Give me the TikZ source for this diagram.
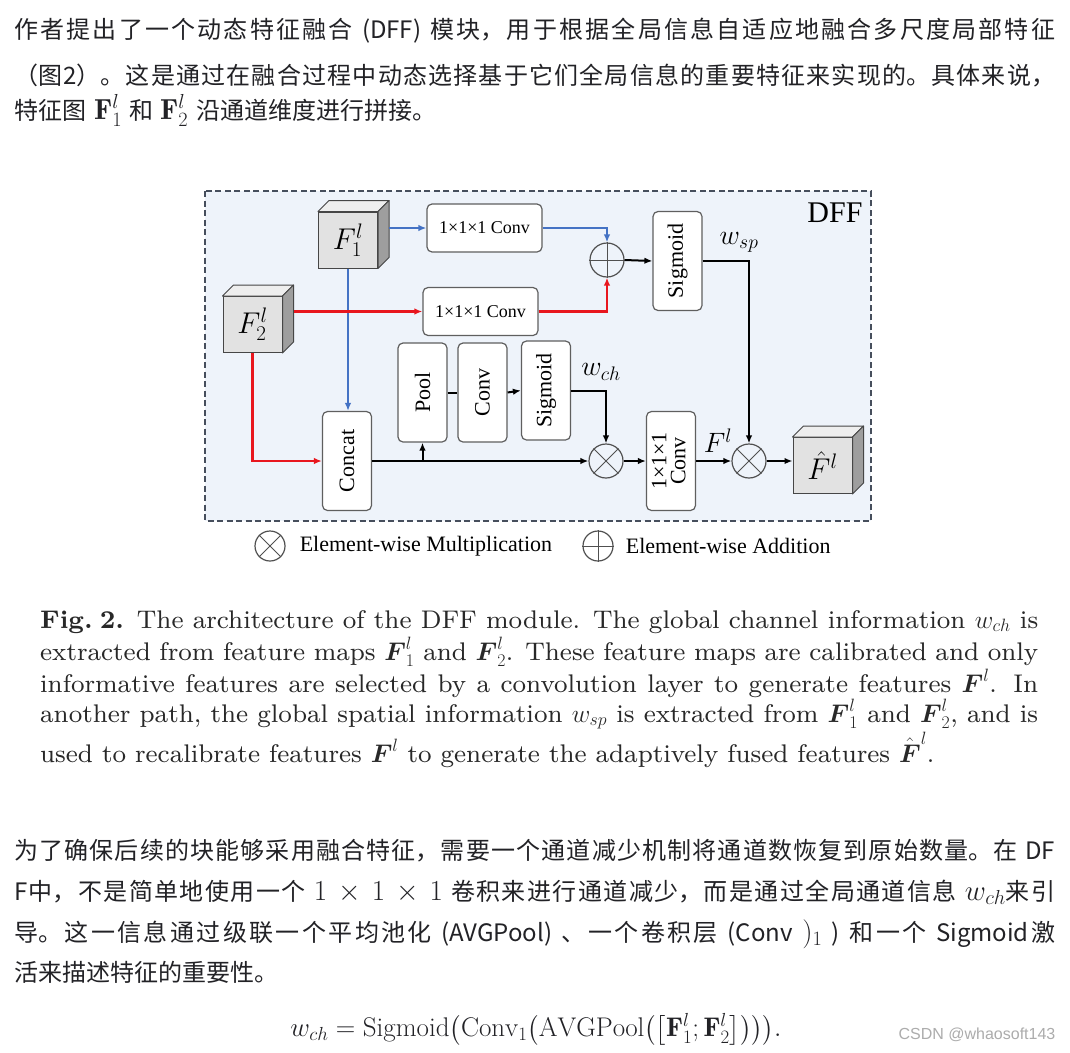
\RequirePackage{fix-cm}
\documentclass[tikz,border=0pt]{standalone}
\usepackage{amsmath}
\usepackage{fontspec}
\usetikzlibrary{positioning,arrows.meta,calc}

\newfontfamily\cjk{Noto Sans CJK SC}
\newfontfamily\figfont{Liberation Serif}
\newfontfamily\capfont{lmroman8-regular.otf}[BoldFont=lmroman8-bold.otf]
\newfontfamily\wmfont{Liberation Sans}

\definecolor{dffbg}{RGB}{238,243,250}
\definecolor{dffedge}{RGB}{70,78,92}
\definecolor{dffblue}{RGB}{68,114,196}
\definecolor{dffred}{RGB}{232,22,30}
\definecolor{boxline}{RGB}{95,95,95}
\definecolor{opcolor}{RGB}{80,80,80}
\definecolor{cubeline}{RGB}{70,70,70}
\definecolor{cubefront}{RGB}{226,226,226}
\definecolor{cubetop}{RGB}{238,238,238}
\definecolor{cubeside}{RGB}{158,158,158}
\definecolor{bodytext}{RGB}{34,34,38}
\definecolor{captext}{RGB}{40,40,40}
\definecolor{wmgray}{RGB}{172,172,172}

% one justified line of Chinese text
\newcommand{\cjkline}[2]{\parbox[b]{#1}{\cjk\fontsize{24}{30}\selectfont
  \XeTeXlinebreaklocale "zh"\XeTeXlinebreakskip=0pt plus 1pt
  \spaceskip=6pt plus 1.5pt\parfillskip=0pt\tolerance=10000\noindent #2}}
% inline formula, a bit larger than the text
\newcommand{\km}[1]{{\fontsize{29}{30}\selectfont$#1$}}
% top and side faces of a feature cube
\newcommand{\cubefaces}[1]{%
  \filldraw[cubeface, fill=cubetop] (#1.north west) -- ++(11,-11) -- ($(#1.north east)+(11,-11)$) -- (#1.north east) -- cycle;
  \filldraw[cubeface, fill=cubeside] (#1.north east) -- ($(#1.north east)+(11,-11)$) -- ($(#1.south east)+(11,-11)$) -- (#1.south east) -- cycle;}

\tikzset{
  bodyline/.style={anchor=base west, inner sep=0pt, text=bodytext},
  capline/.style={anchor=base west, inner sep=0pt, text=captext, font=\capfont\fontsize{25.5}{30}\selectfont},
  dashframe/.style={draw=dffedge, line width=1.8pt, dash pattern=on 6pt off 3.5pt, fill=dffbg},
  block/.style={draw=boxline, fill=white, rounded corners=5pt, line width=1.2pt, minimum width=49pt, minimum height=99pt, inner sep=0pt, font=\figfont\fontsize{22}{24}\selectfont},
  convblock/.style={block, minimum width=115pt, minimum height=48pt, font=\figfont\fontsize{18}{20}\selectfont},
  cube/.style={draw=cubeline, line width=1pt, fill=cubefront, minimum width=59pt, minimum height=56pt, inner sep=0pt, font=\fontsize{30}{32}\selectfont},
  cubeface/.style={draw=cubeline, line width=1pt, line join=round},
  op/.style={circle, draw=opcolor, line width=1.2pt, fill=dffbg, minimum size=34pt, inner sep=0pt},
  opline/.style={opcolor, line width=1pt},
  mathlabel/.style={inner sep=0pt, font=\fontsize{28}{30}\selectfont},
  legendtext/.style={inner sep=0pt, font=\figfont\fontsize{22}{24}\selectfont},
  blueline/.style={dffblue, line width=2pt, ->},
  redline/.style={dffred, line width=2.2pt, ->},
  blackline/.style={black, line width=2pt, ->},
  plainline/.style={black, line width=2pt},
}

\begin{document}
\begin{tikzpicture}[x=1pt, y=-1pt, >={Latex[length=8pt,width=6.5pt]}]
    % Page and bounding box
    \fill[white] (0,0) rectangle (1070,1052);
    \useasboundingbox (0,0) rectangle (1070,1052);

    % Intro paragraph
    \node[bodyline] (introa) at (14,38) {\cjkline{1041pt}{作者提出了一个动态特征融合 (DFF) 模块，用于根据全局信息自适应地融合多尺度局部特征}};
    \node[bodyline] (introb) at (14,84) {\cjkline{1041pt}{（图2）。这是通过在融合过程中动态选择基于它们全局信息的重要特征来实现的。具体来说，}};
    \node[bodyline] (introc) at (14,119) {\cjk\fontsize{24}{30}\selectfont 特征图\hspace{8pt}\km{\mathbf{F}_1^l}\hspace{7pt}和\hspace{7pt}\km{\mathbf{F}_2^l}\hspace{8pt}沿通道维度进行拼接。};

    % DFF frame
    \draw[dashframe] (205,191) rectangle (871,521);
    \node[font=\figfont\fontsize{30}{32}\selectfont] (dfftitle) at (835,213) {DFF};

    % Input feature cubes
    \node[cube] (f1) at (348,240) {$F_1^l$};
    \cubefaces{f1}
    \node[cube] (f2) at (252.5,324.5) {$F_2^l$};
    \cubefaces{f2}
    \coordinate (f1s) at ($(f1.east)+(11,0)$);
    \coordinate (f2s) at ($(f2.east)+(11,0)$);

    % Spatial branch
    \node[convblock] (conva) at (484.5,228) {1×1×1 Conv};
    \node[convblock] (convb) at (480.5,311.5) {1×1×1 Conv};
    \node[op] (add) at (607,260) {};
    \draw[opline] (add.north) -- (add.south) (add.west) -- (add.east);
    \node[block] (sigsp) at (677.5,261) {\rotatebox{90}{Sigmoid}};
    \node[mathlabel] (wsp) at (739,242) {$w_{sp}$};

    % Channel branch
    \node[block] (concat) at (347,461) {\rotatebox{90}{Concat}};
    \node[block] (pool) at (422.5,392.5) {\rotatebox{90}{Pool}};
    \node[block] (convc) at (482.5,392.5) {\rotatebox{90}{Conv}};
    \node[block] (sigch) at (546,390.5) {\rotatebox{90}{Sigmoid}};
    \node[mathlabel] (wch) at (601,372) {$w_{ch}$};
    \node[op] (mula) at (606,461) {};
    \draw[opline] (mula.north west) -- (mula.south east) (mula.north east) -- (mula.south west);
    \node[block] (convd) at (671,461) {\rotatebox{90}{\begin{tabular}{@{}c@{}}1×1×1\\[-5pt]Conv\end{tabular}}};
    \node[mathlabel] (fl) at (718,441) {$F^l$};
    \node[op] (mulb) at (749,461) {};
    \draw[opline] (mulb.north west) -- (mulb.south east) (mulb.north east) -- (mulb.south west);
    \node[cube] (fhat) at (822.5,465.5) {$\hat{F}^l$};
    \cubefaces{fhat}

    % Connectors
    \draw[blueline] (f1s |- conva.west) -- (conva.west);
    \draw[blueline] (conva.east) -| (add.north);
    \draw[blueline] (f1.south) -- (f1.south |- concat.north);
    \draw[redline] (f2s |- convb.west) -- (convb.west);
    \draw[redline] (convb.east) -| (add.south);
    \draw[redline] (f2.south) |- (concat.west);
    \draw[blackline] (add.east) -- (sigsp.west);
    \draw[blackline] (sigsp.east) -| (mulb.north);
    \draw[blackline] (concat.east) -- (mula.west);
    \draw[blackline] (pool.south |- concat.east) -- (pool.south);
    \draw[plainline] (pool.east) -- (convc.west);
    \draw[blackline] (convc.east) -- (sigch.west);
    \draw[blackline] (sigch.east) -| (mula.north);
    \draw[blackline] (mula.east) -- (convd.west);
    \draw[blackline] (convd.east) -- (mulb.west);
    \draw[blackline] (mulb.east) -- (mulb.east -| fhat.west);

    % Legend
    \node[op, fill=white, minimum size=30pt] (legmul) at (270,546) {};
    \draw[opline] (legmul.north west) -- (legmul.south east) (legmul.north east) -- (legmul.south west);
    \node[legendtext, right=14pt of legmul] (legmultext) {Element-wise Multiplication};
    \node[op, fill=white, minimum size=30pt] (legadd) at (598,546) {};
    \draw[opline] (legadd.north) -- (legadd.south) (legadd.west) -- (legadd.east);
    \node[legendtext, right=12pt of legadd] (legaddtext) {Element-wise Addition};

    % Caption
    \node[capline] (capa) at (40,628) {\makebox[998pt][s]{\textbf{Fig.\hspace{7pt}2.} The architecture of the DFF module. The global channel information $w_{ch}$ is}};
    \node[capline] (capb) at (40,660) {\makebox[998pt][s]{extracted from feature maps $\boldsymbol{F}_1^l$ and $\boldsymbol{F}_2^l$. These feature maps are calibrated and only}};
    \node[capline] (capc) at (40,692) {\makebox[998pt][s]{informative features are selected by a convolution layer to generate features $\boldsymbol{F}^l$. In}};
    \node[capline] (capd) at (40,722) {\makebox[998pt][s]{another path, the global spatial information $w_{sp}$ is extracted from $\boldsymbol{F}_1^l$ and $\boldsymbol{F}_2^l$, and is}};
    \node[capline] (cape) at (40,762) {used to recalibrate features $\boldsymbol{F}^l$ to generate the adaptively fused features $\hat{\boldsymbol{F}}^l$.};

    % Second paragraph
    \node[bodyline] (para) at (14,859) {\cjkline{1041pt}{为了确保后续的块能够采用融合特征，需要一个通道减少机制将通道数恢复到原始数量。在 DF}};
    \node[bodyline] (parb) at (14,900) {\cjkline{1041pt}{F中，不是简单地使用一个 \km{1\times1\times1} 卷积来进行通道减少，而是通过全局通道信息 \km{w_{ch}}来引}};
    \node[bodyline] (parc) at (14,941) {\cjkline{1041pt}{导。这一信息通过级联一个平均池化 (AVGPool) 、一个卷积层 (Conv \km{)_1} ) 和一个 Sigmoid激}};
    \node[bodyline] (pard) at (14,981) {\cjk\fontsize{24}{30}\selectfont 活来描述特征的重要性。};

    % Formula and watermark
    \node[text=bodytext] (eqn) at (536,1030) {\fontsize{27}{30}\selectfont $w_{ch} = \mathrm{Sigmoid}\bigl(\mathrm{Conv}_1\bigl(\mathrm{AVGPool}\bigl(\bigl[\mathbf{F}_1^l;\mathbf{F}_2^l\bigr]\bigr)\bigr)\bigr).$};
    \node[text=wmgray, font=\wmfont\fontsize{16}{18}\selectfont] (wmark) at (977,1035) {CSDN @whaosoft143};
\end{tikzpicture}
\end{document}
